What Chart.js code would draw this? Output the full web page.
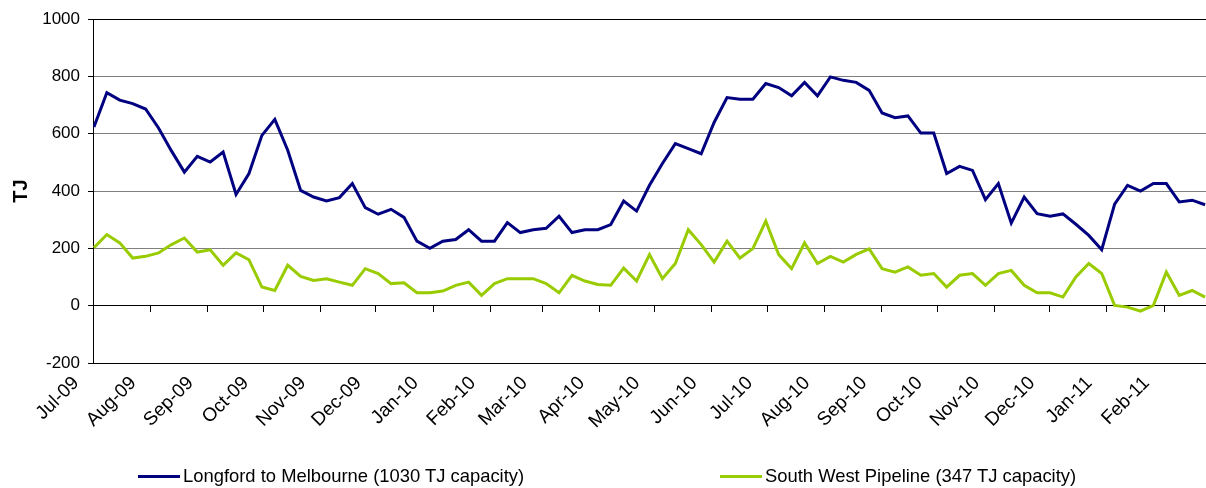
<!DOCTYPE html>
<html><head><meta charset="utf-8">
<script src="https://cdn.jsdelivr.net/npm/chart.js@4.4.1/dist/chart.umd.min.js"></script>
<style>
html,body{margin:0;padding:0;background:#fff;}
#wrap{position:relative;width:1206px;height:488px;overflow:hidden;}
canvas{position:absolute;left:0;top:0;}
.leg{position:absolute;top:466px;height:20px;display:flex;align-items:center;font:18.4px "Liberation Sans",Arial,sans-serif;color:#000;white-space:nowrap;}
.leg i{display:inline-block;width:42px;height:3px;margin-right:3px;}
</style></head><body>
<div id="wrap"><canvas id="c" width="1206" height="488"></canvas>
<div class="leg" id="leg0" style="left:138px"></div><div class="leg" id="leg1" style="left:720px"></div></div>
<script>
const weekDates = [
 '2009-07-01','2009-07-08','2009-07-15','2009-07-22','2009-07-29','2009-08-05','2009-08-12','2009-08-19','2009-08-26',
 '2009-09-02','2009-09-09','2009-09-16','2009-09-23','2009-09-30','2009-10-07','2009-10-14','2009-10-21','2009-10-28',
 '2009-11-04','2009-11-11','2009-11-18','2009-11-25','2009-12-02','2009-12-09','2009-12-16','2009-12-23','2009-12-30',
 '2010-01-06','2010-01-13','2010-01-20','2010-01-27','2010-02-03','2010-02-10','2010-02-17','2010-02-24',
 '2010-03-03','2010-03-10','2010-03-17','2010-03-24','2010-03-31','2010-04-07','2010-04-14','2010-04-21','2010-04-28',
 '2010-05-05','2010-05-12','2010-05-19','2010-05-26','2010-06-02','2010-06-09','2010-06-16','2010-06-23','2010-06-30',
 '2010-07-07','2010-07-14','2010-07-21','2010-07-28','2010-08-04','2010-08-11','2010-08-18','2010-08-25',
 '2010-09-01','2010-09-08','2010-09-15','2010-09-22','2010-09-29','2010-10-06','2010-10-13','2010-10-20','2010-10-27',
 '2010-11-03','2010-11-10','2010-11-17','2010-11-24','2010-12-01','2010-12-08','2010-12-15','2010-12-22','2010-12-29',
 '2011-01-05','2011-01-12','2011-01-19','2011-01-26','2011-02-02','2011-02-09','2011-02-16','2011-02-23'
];
const longford = [
 623,743,717,705,686,620,540,466,521,501,536,388,461,594,650,542,402,379,365,377,426,342,319,336,308,225,200,
 225,231,265,225,225,290,255,265,270,312,255,265,265,283,365,330,420,496,565,548,530,639,726,720,720,775,761,732,779,732,
 798,786,779,751,672,656,662,602,602,461,486,472,370,426,288,379,321,312,320,284,245,195,
 354,420,400,426,426,362,368,352
];
const southWest = [
 202,248,219,166,172,184,213,236,187,195,141,184,160,65,53,141,102,88,94,82,71,129,112,77,80,45,45,
 51,71,82,36,77,94,94,94,77,45,106,86,74,71,131,86,178,94,147,265,213,152,225,166,199,295,178,129,219,147,
 172,152,179,198,129,117,135,106,112,65,106,112,71,112,123,71,45,45,30,100,147,112,
 1,-5,-19,1,117,36,53,30
];
const monthStarts = ['2009-07-01','2009-08-01','2009-09-01','2009-10-01','2009-11-01','2009-12-01','2010-01-01',
 '2010-02-01','2010-03-01','2010-04-01','2010-05-01','2010-06-01','2010-07-01','2010-08-01','2010-09-01',
 '2010-10-01','2010-11-01','2010-12-01','2011-01-01','2011-02-01'];
const monthLabels = ['Jul-09','Aug-09','Sep-09','Oct-09','Nov-09','Dec-09','Jan-10','Feb-10','Mar-10','Apr-10',
 'May-10','Jun-10','Jul-10','Aug-10','Sep-10','Oct-10','Nov-10','Dec-10','Jan-11','Feb-11'];
const yTickValues = [-200,0,200,400,600,800,1000];
const seriesNames = ['Longford to Melbourne (1030 TJ capacity)','South West Pipeline (347 TJ capacity)'];
const seriesColors = ['#000080','#99CC00'];
const yTitle = 'TJ';

const FONT = '"Liberation Sans", Arial, sans-serif';
const origin = Date.parse('2009-07-01T00:00:00Z');
const day = s => (Date.parse(s + 'T00:00:00Z') - origin) / 86400000;

const toPoints = vals => weekDates.map((d, i) => ({x: day(d), y: vals[i]}));

const zeroTicks = {
  id: 'zeroTicks',
  beforeDatasetsDraw(chart) {
    const {ctx, scales: {x, y}} = chart;
    const y0 = Math.round(y.getPixelForValue(0));
    ctx.save();
    ctx.strokeStyle = '#000';
    ctx.lineWidth = 1;
    x.ticks.forEach(t => {
      const px = Math.round(x.getPixelForValue(t.value)) + 0.5;
      ctx.beginPath(); ctx.moveTo(px, y0); ctx.lineTo(px, y0 + 6); ctx.stroke();
    });
    ctx.restore();
  }
};

new Chart(document.getElementById('c'), {
  type: 'line',
  data: {
    datasets: [
      {label: seriesNames[0], data: toPoints(longford), borderColor: seriesColors[0], backgroundColor: seriesColors[0], borderWidth: 3, pointRadius: 0, tension: 0},
      {label: seriesNames[1], data: toPoints(southWest), borderColor: seriesColors[1], backgroundColor: seriesColors[1], borderWidth: 3, pointRadius: 0, tension: 0}
    ]
  },
  options: {
    responsive: false,
    animation: false,
    layout: {padding: {top: 19, left: 0, right: 0, bottom: 0}},
    plugins: {legend: {display: false}, tooltip: {enabled: false}},
    scales: {
      x: {
        type: 'linear',
        min: -0.5, max: 602.5,
        afterBuildTicks: s => { s.ticks = monthStarts.map(d => ({value: day(d) - 0.5})); },
        afterFit: s => { s.height = 125; },
        grid: {display: false, drawTicks: false},
        border: {display: false},
        ticks: {
          autoSkip: false, minRotation: 45, maxRotation: 45, padding: 9, labelOffset: -17,
          color: '#000', font: {family: FONT, size: 19},
          callback: (v, i) => monthLabels[i]
        }
      },
      y: {
        min: -200, max: 1000,
        afterBuildTicks: s => { s.ticks = yTickValues.map(v => ({value: v})); },
        afterFit: s => { s.width = 93; },
        grid: {
          color: c => ([1000, 0, -200].includes(c.tick && c.tick.value) ? '#000' : '#808080'),
          tickColor: '#000', tickLength: 5, lineWidth: 1
        },
        border: {display: true, color: '#000', width: 1},
        ticks: {padding: 8, color: '#000', font: {family: FONT, size: 17}, callback: v => String(v)},
        title: {display: true, text: yTitle, color: '#000', font: {family: FONT, size: 20, weight: 'bold'}, padding: {top: 9, bottom: 0}}
      }
    }
  },
  plugins: [zeroTicks]
});

seriesNames.forEach((n, i) => {
  const el = document.getElementById('leg' + i);
  const sw = document.createElement('i');
  sw.style.background = seriesColors[i];
  el.appendChild(sw);
  el.appendChild(document.createTextNode(n));
});
</script>
</body></html>
